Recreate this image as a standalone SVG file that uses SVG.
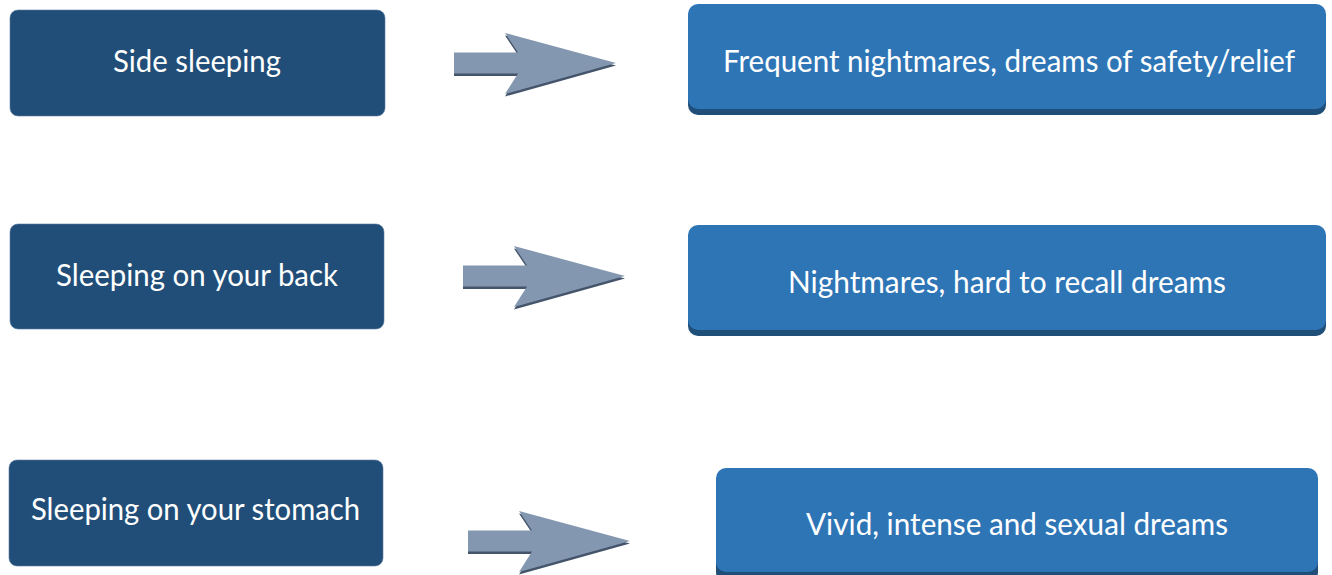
<svg xmlns="http://www.w3.org/2000/svg" xmlns:xlink="http://www.w3.org/1999/xlink" width="1332" height="575" viewBox="0 0 1332 575">
<defs>
<style>
.left{fill:#214E78;stroke:#5A7BA0;stroke-width:0.6}
.rtop{fill:#2E75B6}
.rbot{fill:#1F4E79}
.txt{font-family:Lato,"Open Sans","Liberation Sans",sans-serif;font-size:30px;fill:#FFFFFF;text-anchor:middle}
.ash{fill:#44546A}
.afill{fill:#8497B0}
</style>
<path id="arrow" d="M-162,-10.5 H-98 L-111,-30 L0,0 L-111,31 L-98,10.5 H-162 Z"/>
</defs>
<rect width="1332" height="575" fill="#FFFFFF"/>
<g id="connectors">
<g transform="translate(616,63)"><use xlink:href="#arrow" class="ash" transform="translate(0,2.5)"/><use xlink:href="#arrow" class="afill"/></g>
<g transform="translate(625,276)"><use xlink:href="#arrow" class="ash" transform="translate(0,2.5)"/><use xlink:href="#arrow" class="afill"/></g>
<g transform="translate(630,541)"><use xlink:href="#arrow" class="ash" transform="translate(0,2.5)"/><use xlink:href="#arrow" class="afill"/></g>
</g>
<g id="side">
<rect class="left" x="10" y="10" width="375" height="106" rx="8"/>
<text class="txt" x="197" y="72" textLength="168" lengthAdjust="spacingAndGlyphs">Side sleeping</text>
</g>
<g id="back">
<rect class="left" x="10" y="224" width="374" height="105" rx="8"/>
<text class="txt" x="197" y="286" textLength="282" lengthAdjust="spacingAndGlyphs">Sleeping on your back</text>
</g>
<g id="stomach">
<rect class="left" x="9" y="460" width="374" height="106" rx="8"/>
<text class="txt" x="195.5" y="520" textLength="329" lengthAdjust="spacingAndGlyphs">Sleeping on your stomach</text>
</g>
<g id="frequent">
<rect class="rbot" x="688" y="8" width="638" height="107" rx="10"/>
<rect class="rtop" x="688" y="4" width="638" height="105" rx="10"/>
<text class="txt" x="1009" y="72" textLength="572" lengthAdjust="spacingAndGlyphs">Frequent nightmares, dreams of safety/relief</text>
</g>
<g id="nightmares">
<rect class="rbot" x="688" y="229" width="638" height="107" rx="10"/>
<rect class="rtop" x="688" y="225" width="638" height="105" rx="10"/>
<text class="txt" x="1007" y="293" textLength="438" lengthAdjust="spacingAndGlyphs">Nightmares, hard to recall dreams</text>
</g>
<g id="vivid">
<rect class="rbot" x="716" y="472" width="602" height="110" rx="10"/>
<rect class="rtop" x="716" y="468" width="602" height="104" rx="10"/>
<text class="txt" x="1017" y="535" textLength="422" lengthAdjust="spacingAndGlyphs">Vivid, intense and sexual dreams</text>
</g>
</svg>
